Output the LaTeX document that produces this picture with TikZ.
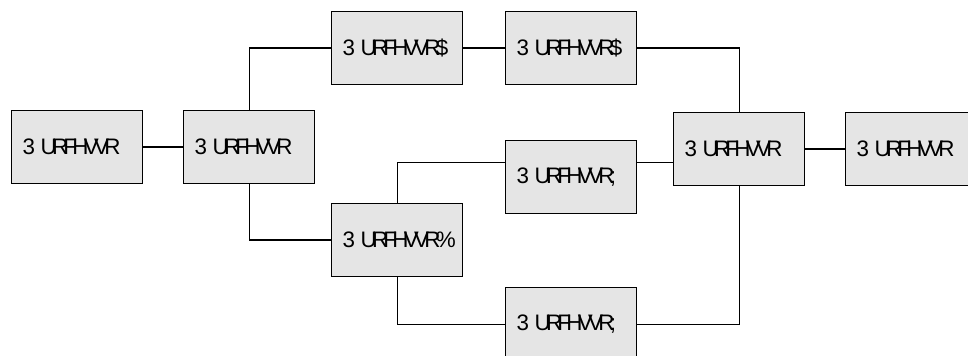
\documentclass[tikz,border=0pt]{standalone}
\usepackage{fontspec}
\setmainfont{Liberation Sans}[LetterSpace=-21]
\usepackage{tikz}

\tikzset{
  proc/.style={shape=rectangle,draw,fill=gray!20,line width=1.1pt,anchor=north west,
    inner xsep=8.25pt,inner ysep=0pt,text width=81.75pt,minimum height=54.75pt,align=left,
    font=\fontsize{16.8}{19}\selectfont},
  link/.style={line width=1.1pt}
}
% keep a process name on one line, with a narrow word space
\newcommand{\pname}[1]{\mbox{\spaceskip=4pt #1}}

\begin{document}
\begin{tikzpicture}[x=0.75pt,y=-0.75pt]
\useasboundingbox (0,0) rectangle (968,356);
\clip (0,0) rectangle (968,356);
% boxes, placed by their top left corner
\draw (11,110) node (p1) [proc] {\pname{3 URFHVVR}};
\draw (183,110) node (p2) [proc] {\pname{3 URFHVVR}};
\draw (331,11) node (a1) [proc] {\pname{3 URFHVVR\$}};
\draw (505,11) node (a2) [proc] {\pname{3 URFHVVR\$}};
\draw (331,203) node (b) [proc] {\pname{3 URFHVVR\%}};
\draw (505,140) node (x1) [proc] {\pname{3 URFHVVR;}};
\draw (505,287) node (x2) [proc] {\pname{3 URFHVVR;}};
\draw (673,112) node (c) [proc] {\pname{3 URFHVVR}};
\draw (845,112) node (d) [proc] {\pname{3 URFHVVR}};
% connections
\draw[link] (p1.east) -- (p2.west);
\draw[link] (p2.north) |- (a1.west);
\draw[link] (p2.south) |- (b.west);
\draw[link] (a1.east) -- (a2.west);
\draw[link] (a2.east) -| (c.north);
\draw[link] (b.north) |- ([yshift=11pt]x1.west);
\draw[link] (b.south) |- (x2.west);
\draw[link] ([yshift=11pt]x1.east) -- ([yshift=11pt]x1.east -| c.west);
\draw[link] (c.south) |- (x2.east);
\draw[link] (c.east) -- (d.west);
\end{tikzpicture}
\end{document}
